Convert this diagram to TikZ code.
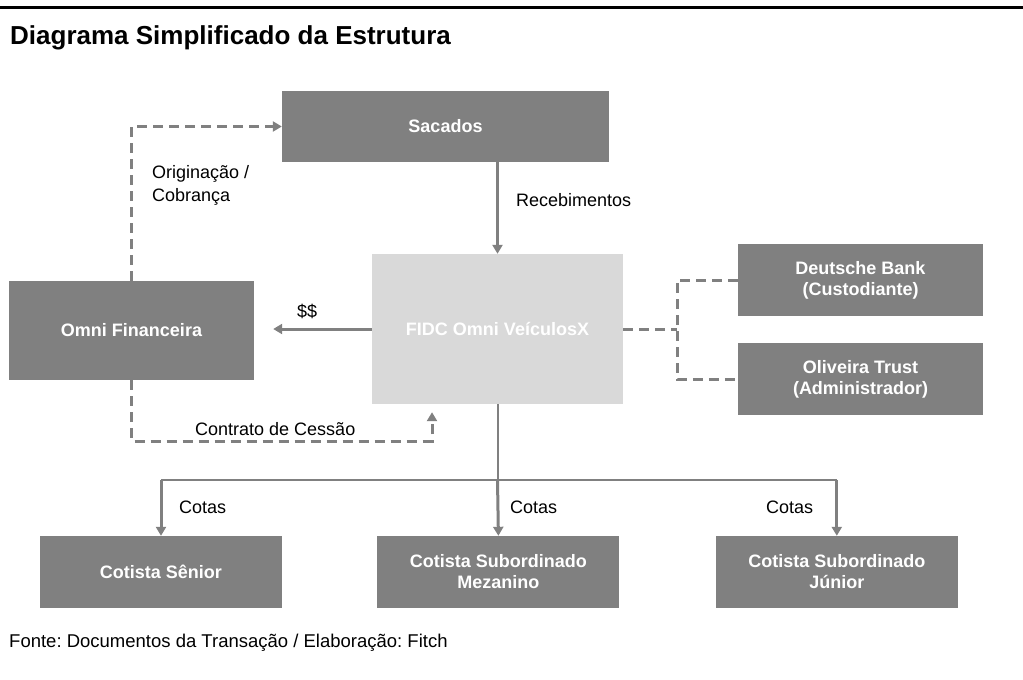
\documentclass[tikz,border=0pt]{standalone}
\usepackage{fontspec}
\setmainfont{Liberation Sans}
\usepackage{xcolor}
\usetikzlibrary{positioning, arrows.meta}
\definecolor{boxgray}{HTML}{808080}
\definecolor{fundgray}{HTML}{D9D9D9}
\frenchspacing

\begin{document}
\begin{tikzpicture}[
    x=1pt, y=-1pt,
    font=\fontsize{18}{23}\selectfont,
    node distance=27pt and 95pt,
    party/.style={fill=boxgray, text=white, font=\fontsize{18}{21}\selectfont\bfseries, align=center, inner sep=0pt},
    fund/.style={fill=fundgray, text=white, font=\fontsize{18}{21}\selectfont\bfseries, align=center, inner sep=0pt, minimum width=251pt, minimum height=150pt},
    quota/.style={party, minimum width=242pt, minimum height=72pt},
    lbl/.style={anchor=base west, inner sep=0pt, align=left},
    arr/.style={-{Triangle[length=9pt, width=10pt]}, line width=3pt, draw=boxgray},
    darr/.style={arr, dash pattern=on 10pt off 6pt},
    dline/.style={line width=3pt, draw=boxgray, dash pattern=on 10pt off 6pt},
    fork/.style={line width=2pt, draw=boxgray},
  ]
  \useasboundingbox (0,0) rectangle (1023,680);
  \draw[line width=2.5pt] (0,7.5) -- (1023,7.5);
  \node[anchor=base west, inner sep=0pt, font=\fontsize{26}{30}\selectfont\bfseries] (title) at (10,44) {Diagrama Simplificado da Estrutura};

  \node[party, minimum width=327pt, minimum height=71pt] (sacados) at (445.5,126.5) {Sacados};
  \node[fund] (fidc) at (497.5,329) {FIDC Omni VeículosX};
  \node[party, minimum width=245pt, minimum height=99pt] (omni) at (131.5,330.5) {Omni Financeira};
  \node[party, minimum width=245pt, minimum height=72pt] (deutsche) at (860.5,280) {Deutsche Bank\\(Custodiante)};
  \node[party, minimum width=245pt, minimum height=72pt, below=27pt of deutsche] (oliveira) {Oliveira Trust\\(Administrador)};
  \node[quota] (senior) at (161,572) {Cotista Sênior};
  \node[quota, right=95pt of senior] (mezanino) {Cotista Subordinado\\Mezanino};
  \node[quota, right=96pt of mezanino] (junior) {Cotista Subordinado\\Júnior};

  \coordinate (split) at (497.5,480);
  \coordinate (hub) at (677,329);
  \coordinate (cess) at (432,441);

  \draw[arr] (fidc.north |- sacados.south) -- (fidc.north);
  \draw[darr] (omni.north) |- (sacados.west);
  \draw[arr, shorten >=19pt] (fidc.west) -- (omni.east |- fidc.west);
  \draw[darr, shorten >=8pt] (omni.south) |- (cess) -- (cess |- fidc.south);
  \draw[dline] (fidc.east) -- (hub);
  \draw[dline] (deutsche.west) -| (hub) |- (oliveira.west);
  \draw[fork] (fidc.south) -- (split);
  \draw[fork] (senior.north |- split) -- (junior.north |- split);
  \draw[arr] (senior.north |- split) -- (senior.north);
  \draw[arr] (split) -- (mezanino.north);
  \draw[arr] (junior.north |- split) -- (junior.north);

  \node[lbl] (lblorig) at (152,201) {Originação /\\Cobrança};
  \node[lbl] (lblrec) at (516,206) {Recebimentos};
  \node[lbl] (lblcash) at (297,317) {\$\$};
  \node[lbl] (lblcess) at (195,435) {Contrato de Cessão};
  \node[lbl] (lblsen) at (179,513) {Cotas};
  \node[lbl] (lblmez) at (510,513) {Cotas};
  \node[lbl] (lbljun) at (766,513) {Cotas};
  \node[lbl, font=\fontsize{18.5}{22}\selectfont] (source) at (9,647) {Fonte: Documentos da Transação / Elaboração: Fitch};
\end{tikzpicture}
\end{document}
